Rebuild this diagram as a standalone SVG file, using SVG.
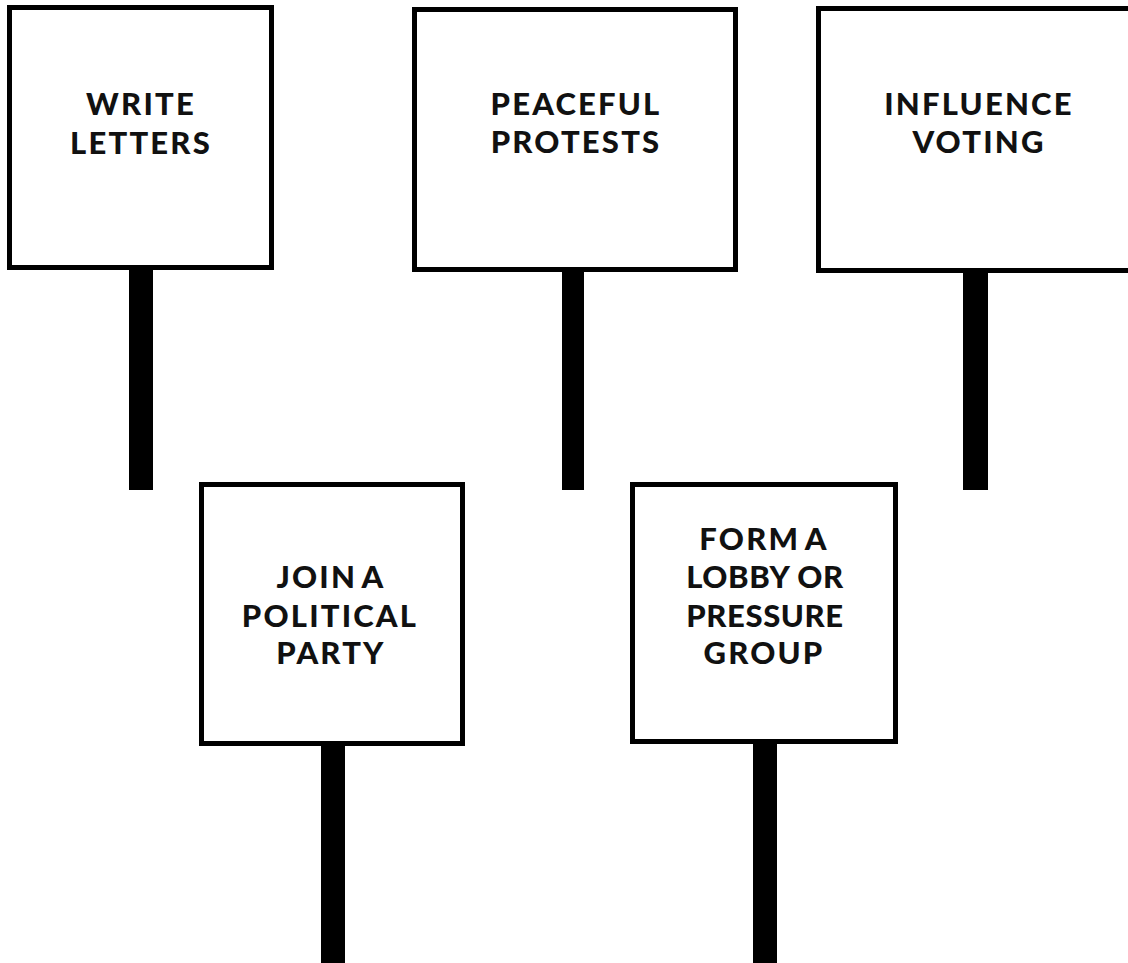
<svg xmlns="http://www.w3.org/2000/svg" width="1128" height="963" viewBox="0 0 1128 963">
<style>
.post{fill:#000}
.board{fill:#fff;stroke:#000;stroke-width:5}
.lbl{font-family:Lato,"Open Sans","Liberation Sans",sans-serif;font-weight:900;font-size:31px;letter-spacing:2.2px;word-spacing:-4px;fill:#111;text-anchor:middle}
.tight{letter-spacing:0.6px;word-spacing:0}
</style>
<rect width="1128" height="963" fill="#fff"/>
<g id="posts">
<rect class="post" x="129" y="268" width="24" height="222"/>
<rect class="post" x="562" y="270" width="22" height="220"/>
<rect class="post" x="963" y="271" width="25" height="219"/>
<rect class="post" x="321" y="744" width="24" height="219"/>
<rect class="post" x="753" y="742" width="24" height="221"/>
</g>
<g id="sign-write-letters">
<rect class="board" x="9.5" y="7.5" width="262" height="260"/>
<text class="lbl" x="141" y="115">WRITE</text>
<text class="lbl" x="141" y="154">LETTERS</text>
</g>
<g id="sign-peaceful-protests">
<rect class="board" x="414.5" y="9.5" width="321" height="260"/>
<text class="lbl" x="576" y="115">PEACEFUL</text>
<text class="lbl" x="576" y="153">PROTESTS</text>
</g>
<g id="sign-influence-voting">
<rect class="board" x="818.5" y="8.5" width="320" height="262"/>
<text class="lbl" x="979" y="115">INFLUENCE</text>
<text class="lbl" x="979" y="153">VOTING</text>
</g>
<g id="sign-join-party">
<rect class="board" x="201.5" y="484.5" width="261" height="259"/>
<text class="lbl" x="331" y="588">JOIN A</text>
<text class="lbl" x="330" y="627">POLITICAL</text>
<text class="lbl" x="331" y="664">PARTY</text>
</g>
<g id="sign-lobby-group">
<rect class="board" x="632.5" y="484.5" width="263" height="257"/>
<text class="lbl" x="764" y="550">FORM A</text>
<text class="lbl tight" x="765" y="588">LOBBY OR</text>
<text class="lbl tight" x="765" y="627">PRESSURE</text>
<text class="lbl" x="764" y="664">GROUP</text>
</g>
</svg>
